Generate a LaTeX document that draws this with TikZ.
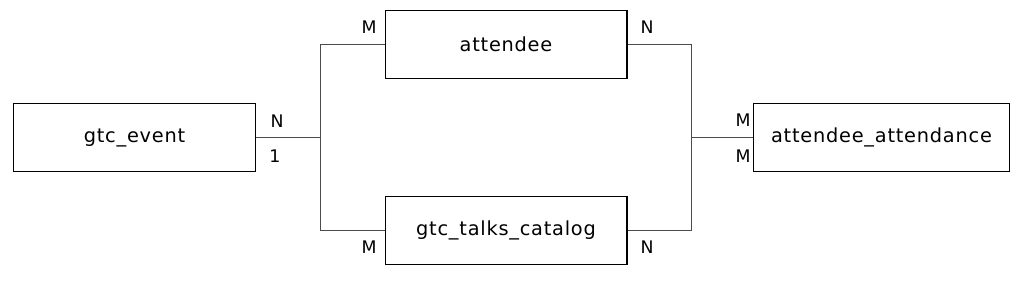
\documentclass[tikz,border=0pt]{standalone}
\usepackage{fontspec}
\setmainfont{DejaVu Sans}
\newfontfamily\boxfont[LetterSpace=4]{DejaVu Sans}
\begin{document}
\begin{tikzpicture}[x=0.75pt,y=-0.75pt,
  entity/.style={draw=black, line width=0.9pt, fill=white, minimum width=182.25pt-0.9pt, minimum height=51.75pt-0.9pt, inner sep=0pt, font=\boxfont\fontsize{14.5}{16}\selectfont},
  rel/.style={draw=black!70, line width=0.75pt},
  card/.style={font=\fontsize{13}{15}\selectfont, inner sep=0pt}]
\useasboundingbox (0,0) rectangle (1024,282);
\node[entity] (ev) at (134.5,137.5) {gtc\_event};
\node[entity] (att) at (506,44.5) {attendee};
\node[entity] (tc) at (506,230.5) {gtc\_talks\_catalog};
\node[entity, minimum width=192.75pt-0.9pt] (aa) at (881.5,137.5) {attendee\_attendance};
\coordinate (jl) at (320,137.5);
\coordinate (jr) at (691,137.5);
\draw[rel] (ev.east) -- (jl);
\draw[rel] (jl |- att.west) -- (jl |- tc.west);
\draw[rel] (jl |- att.west) -- (att.west);
\draw[rel] (jl |- tc.west) -- (tc.west);
\draw[rel] (att.east) -- (jr |- att.east) -- (jr |- tc.east) -- (tc.east);
\draw[rel] (jr) -- (aa.west);
\node[card] (c1) at (277,121) {N};
\node[card] (c2) at (275,156) {1};
\node[card] (c3) at (369,27) {M};
\node[card] (c4) at (647,27) {N};
\node[card] (c5) at (369,247) {M};
\node[card] (c6) at (647,247) {N};
\node[card] (c7) at (743,120) {M};
\node[card] (c8) at (743,156) {M};
\end{tikzpicture}
\end{document}
